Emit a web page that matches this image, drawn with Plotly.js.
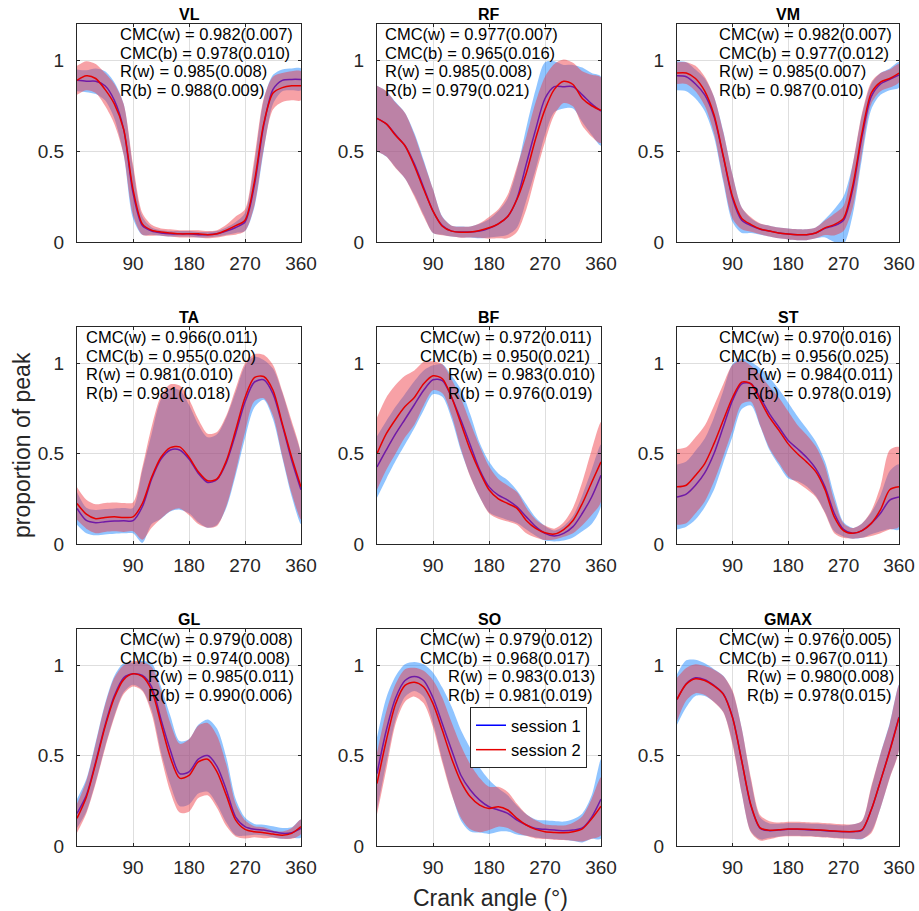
<!DOCTYPE html>
<html><head><meta charset="utf-8">
<script src="https://cdn.plot.ly/plotly-3.0.1.min.js"></script>
<style>html,body{margin:0;padding:0;background:#fff}#chart{width:919px;height:911px}</style>
</head><body><div id="chart"></div>
<script>
// ---------------- DATA ----------------
const angle = [0,15,30,45,60,75,90,105,120,135,150,165,180,195,210,225,240,255,270,285,300,315,330,345,360];
const muscles = ['VL','RF','VM','TA','BF','ST','GL','SO','GMAX'];
const sessionNames = ['session 1','session 2'];

const VL_m1 = [.89,.885,.885,.86,.78,.62,.27,.09,.06,.05,.045,.045,.045,.04,.04,.045,.06,.08,.11,.31,.64,.84,.89,.895,.895];
const VL_s1 = [.06,.06,.07,.08,.10,.14,.14,.05,.02,.015,.015,.015,.015,.015,.015,.015,.02,.03,.05,.12,.14,.08,.06,.06,.06];
const VL_m2 = [.89,.915,.90,.84,.76,.62,.29,.10,.065,.055,.05,.045,.045,.045,.04,.045,.065,.09,.12,.33,.65,.82,.85,.86,.86];
const VL_s2 = [.08,.08,.08,.09,.11,.14,.14,.06,.03,.02,.02,.02,.02,.02,.02,.02,.03,.05,.06,.13,.14,.09,.08,.08,.08];

const RF_m1 = [.68,.65,.59,.53,.43,.30,.17,.09,.06,.055,.055,.06,.075,.10,.14,.24,.43,.62,.79,.855,.855,.855,.81,.76,.72];
const RF_s1 = [.18,.18,.18,.18,.17,.15,.12,.05,.03,.03,.03,.04,.05,.07,.10,.16,.20,.22,.20,.14,.12,.12,.15,.17,.19];
const RF_m2 = [.68,.65,.586,.53,.42,.29,.17,.087,.06,.054,.055,.063,.078,.10,.14,.235,.38,.57,.73,.84,.885,.867,.79,.75,.725];
const RF_s2 = [.18,.18,.18,.18,.17,.15,.12,.05,.03,.03,.03,.04,.06,.08,.12,.18,.20,.20,.18,.14,.12,.12,.15,.17,.18];

const VM_m1 = [.915,.91,.87,.81,.69,.47,.24,.12,.09,.07,.06,.05,.044,.04,.04,.05,.075,.09,.12,.29,.58,.80,.87,.895,.92];
const VM_s1 = [.08,.08,.08,.09,.11,.14,.13,.07,.04,.03,.03,.03,.03,.03,.03,.03,.05,.09,.13,.14,.12,.07,.06,.06,.07];
const VM_m2 = [.93,.93,.90,.83,.70,.475,.25,.13,.096,.072,.06,.05,.044,.04,.04,.05,.078,.096,.13,.31,.60,.82,.88,.90,.93];
const VM_s2 = [.06,.06,.07,.08,.10,.13,.12,.06,.04,.03,.03,.03,.03,.03,.03,.03,.04,.06,.07,.12,.11,.06,.05,.05,.05];

const TA_m1 = [.197,.13,.118,.123,.127,.129,.129,.206,.36,.47,.52,.52,.47,.39,.34,.357,.45,.61,.785,.895,.908,.83,.656,.463,.30];
const TA_s1 = [.09,.07,.07,.07,.07,.07,.07,.20,.25,.33,.34,.33,.30,.27,.25,.25,.25,.23,.20,.14,.11,.14,.18,.20,.19];
const TA_m2 = [.224,.165,.14,.147,.15,.147,.15,.224,.37,.48,.533,.537,.48,.40,.35,.36,.46,.63,.81,.92,.926,.85,.665,.48,.316];
const TA_s2 = [.09,.08,.08,.08,.08,.08,.08,.20,.28,.34,.35,.34,.32,.29,.26,.26,.25,.23,.19,.13,.12,.14,.18,.20,.18];

const BF_m1 = [.426,.52,.61,.69,.77,.85,.908,.904,.81,.684,.546,.41,.316,.27,.243,.206,.15,.096,.059,.044,.059,.096,.17,.26,.38];
const BF_s1 = [.17,.16,.15,.14,.13,.11,.08,.09,.12,.17,.17,.15,.14,.12,.11,.09,.07,.05,.04,.03,.04,.06,.10,.15,.17];
const BF_m2 = [.50,.61,.69,.76,.81,.886,.93,.914,.81,.665,.52,.40,.30,.25,.224,.197,.13,.086,.062,.055,.08,.13,.224,.34,.454];
const BF_s2 = [.20,.20,.19,.17,.15,.12,.08,.08,.10,.14,.15,.14,.13,.11,.10,.09,.07,.05,.04,.03,.04,.07,.12,.18,.22];

const ST_m1 = [.26,.276,.325,.393,.50,.647,.794,.886,.886,.81,.72,.647,.574,.528,.48,.417,.316,.17,.081,.059,.074,.114,.17,.243,.26];
const ST_s1 = [.18,.18,.19,.19,.20,.20,.20,.14,.12,.16,.20,.21,.21,.18,.16,.15,.14,.10,.04,.03,.04,.06,.10,.16,.18];
const ST_m2 = [.316,.325,.38,.445,.555,.684,.81,.895,.886,.794,.70,.63,.555,.50,.454,.40,.30,.15,.074,.059,.074,.114,.19,.30,.316];
const ST_s2 = [.21,.21,.21,.21,.21,.20,.18,.12,.10,.14,.17,.18,.18,.16,.15,.14,.13,.09,.04,.03,.04,.07,.13,.22,.22];

const GL_m1 = [.18,.28,.465,.667,.83,.93,.952,.943,.88,.70,.53,.40,.41,.48,.50,.44,.31,.16,.107,.092,.088,.079,.07,.0735,.097];
const GL_s1 = [.08,.09,.11,.12,.11,.08,.06,.08,.13,.18,.19,.18,.18,.19,.20,.21,.18,.10,.05,.03,.03,.03,.03,.03,.05];
const GL_m2 = [.153,.27,.456,.658,.82,.92,.952,.9375,.86,.676,.49,.375,.39,.465,.48,.41,.28,.143,.092,.079,.0735,.066,.06,.07,.107];
const GL_s2 = [.08,.09,.11,.12,.11,.08,.07,.08,.13,.18,.19,.19,.20,.20,.20,.20,.17,.09,.05,.03,.03,.02,.02,.03,.04];

const SO_m1 = [.40,.64,.82,.915,.9375,.915,.82,.676,.53,.39,.31,.254,.217,.199,.18,.143,.116,.097,.092,.088,.085,.088,.10,.16,.26];
const SO_s1 = [.20,.18,.12,.09,.08,.09,.14,.20,.24,.25,.23,.18,.15,.12,.10,.08,.06,.05,.05,.05,.05,.06,.08,.12,.22];
const SO_m2 = [.345,.585,.787,.888,.906,.879,.787,.64,.483,.355,.272,.226,.208,.217,.199,.153,.116,.092,.079,.075,.0735,.079,.095,.15,.22];
const SO_s2 = [.17,.16,.11,.09,.08,.09,.13,.18,.20,.20,.18,.15,.12,.11,.10,.08,.06,.05,.04,.04,.04,.05,.07,.11,.16];

const GMAX_m1 = [.81,.897,.93,.92,.888,.842,.713,.47,.22,.097,.085,.088,.092,.092,.09,.088,.085,.081,.079,.079,.088,.20,.36,.53,.713];
const GMAX_s1 = [.14,.13,.10,.09,.09,.10,.14,.18,.14,.06,.04,.035,.035,.035,.035,.035,.035,.035,.035,.04,.05,.12,.15,.15,.18];
const GMAX_m2 = [.81,.895,.925,.915,.885,.84,.71,.47,.225,.10,.087,.09,.094,.094,.092,.09,.087,.083,.08,.08,.09,.20,.36,.525,.71];
const GMAX_s2 = [.12,.09,.08,.08,.09,.10,.15,.18,.15,.07,.05,.04,.04,.04,.04,.04,.04,.04,.04,.04,.05,.13,.15,.15,.18];

const cmcW = ['0.982(0.007)','0.977(0.007)','0.982(0.007)','0.966(0.011)','0.972(0.011)','0.970(0.016)','0.979(0.008)','0.979(0.012)','0.976(0.005)'];
const cmcB = ['0.978(0.010)','0.965(0.016)','0.977(0.012)','0.955(0.020)','0.950(0.021)','0.956(0.025)','0.974(0.008)','0.968(0.017)','0.967(0.011)'];
const rW   = ['0.985(0.008)','0.985(0.008)','0.985(0.007)','0.981(0.010)','0.983(0.010)','0.984(0.011)','0.985(0.011)','0.983(0.013)','0.980(0.008)'];
const rB   = ['0.988(0.009)','0.979(0.021)','0.987(0.010)','0.981(0.018)','0.976(0.019)','0.978(0.019)','0.990(0.006)','0.981(0.019)','0.978(0.015)'];
const statLabels = ['CMC(w) = ','CMC(b) = ','R(w) = ','R(b) = '];
const xTicks = [90,180,270,360];
const yTicks = [0,0.5,1];
const yTickText = ['0','0.5','1'];

const series = {
  VL:[VL_m1,VL_s1,VL_m2,VL_s2], RF:[RF_m1,RF_s1,RF_m2,RF_s2], VM:[VM_m1,VM_s1,VM_m2,VM_s2],
  TA:[TA_m1,TA_s1,TA_m2,TA_s2], BF:[BF_m1,BF_s1,BF_m2,BF_s2], ST:[ST_m1,ST_s1,ST_m2,ST_s2],
  GL:[GL_m1,GL_s1,GL_m2,GL_s2], SO:[SO_m1,SO_s1,SO_m2,SO_s2], GMAX:[GMAX_m1,GMAX_s1,GMAX_m2,GMAX_s2]
};

// ---------------- LAYOUT ----------------
const W = 919, H = 911;
const FONT = '"Liberation Sans", Arial, Helvetica, sans-serif';
const colsPx = [[77,301],[377,601],[677,899]];
const rowsPx = [[24,242],[327,544],[629,846]];
// left offset (px from plot left) of CMC lines and R lines
const textOff = [[41,41],[6,6],[40,40],[7,7],[41,69],[40,68],[41,69],[41,69],[40,68]];
const lineOff = [10,28.5,47,65.5];

const bandColors = ['rgba(20,130,255,0.47)','rgba(238,55,65,0.47)'];
const lineColors = ['#0000ff','#e60000'];

const traces = [];
const layout = {
  width: W, height: H,
  margin: {l:0,r:0,t:0,b:0},
  paper_bgcolor:'#fff', plot_bgcolor:'#fff',
  font: {family: FONT, color:'#262626'},
  showlegend: true,
  legend: {x: 470/W, y: 1-707/H, xanchor:'left', yanchor:'top',
           bgcolor:'#fff', bordercolor:'#262626', borderwidth:1,
           font:{size:16.5, family:FONT, color:'#000'}, tracegroupgap:0},
  annotations: [], shapes: []
};

muscles.forEach((m, i) => {
  const r = Math.floor(i/3), c = i%3;
  const sfx = i===0 ? '' : String(i+1);
  const xa = 'x'+sfx, ya = 'y'+sfx;
  const [m1,s1,m2,s2] = series[m];
  [[m1,s1],[m2,s2]].forEach(([mm,ss],k) => {
    const up = mm.map((v,j)=>v+ss[j]);
    const lo = mm.map((v,j)=>v-ss[j]);
    traces.push({x: angle.concat(angle.slice().reverse()), y: up.concat(lo.slice().reverse()),
      type:'scatter', mode:'lines', fill:'toself', fillcolor: bandColors[k],
      line:{width:0, shape:'spline', smoothing:0.8}, hoverinfo:'skip', showlegend:false, xaxis:xa, yaxis:ya});
    traces.push({x: angle, y: mm, type:'scatter', mode:'lines', name: sessionNames[k],
      line:{color: lineColors[k], width:1.5, shape:'spline', smoothing:0.8},
      showlegend: i===0, legendrank: k+1, xaxis:xa, yaxis:ya});
  });
  const ax = {
    domain:[colsPx[c][0]/W, colsPx[c][1]/W], range:[0,360], anchor: ya,
    tickvals:xTicks, ticktext:xTicks.map(String), ticks:'inside', ticklen:3, tickcolor:'#262626',
    showline:true, linecolor:'#262626', linewidth:1, mirror:'ticks',
    showgrid:true, gridcolor:'#dedede', gridwidth:1, zeroline:false,
    tickfont:{size:19, family:FONT, color:'#262626'}, ticklabelstandoff:4, fixedrange:true
  };
  const ay = {
    domain:[1-rowsPx[r][1]/H, 1-rowsPx[r][0]/H], range:[0,1.2], anchor: xa,
    tickvals:yTicks, ticktext:yTickText, ticks:'inside', ticklen:3, tickcolor:'#262626',
    showline:true, linecolor:'#262626', linewidth:1, mirror:'ticks',
    showgrid:true, gridcolor:'#dedede', gridwidth:1, zeroline:false,
    tickfont:{size:19, family:FONT, color:'#262626'}, ticklabelstandoff:8, fixedrange:true
  };
  layout['xaxis'+sfx] = ax;
  layout['yaxis'+sfx] = ay;
  // title
  layout.annotations.push({xref:'paper', yref:'paper', x:(colsPx[c][0]+colsPx[c][1])/2/W,
    y:1-(rowsPx[r][0]-9.5)/H, xanchor:'center', yanchor:'middle', showarrow:false,
    text:'<b>'+m+'</b>', font:{size:16, family:FONT, color:'#000'}});
  const vals = [cmcW[i], cmcB[i], rW[i], rB[i]];
  vals.forEach((v,j) => {
    const off = j<2 ? textOff[i][0] : textOff[i][1];
    layout.annotations.push({xref:'paper', yref:'paper', x:(colsPx[c][0]+off)/W,
      y:1-(rowsPx[r][0]+lineOff[j])/H, xanchor:'left', yanchor:'middle', showarrow:false,
      text: statLabels[j]+v, font:{size:16.5, family:FONT, color:'#000'}});
  });
});

layout.annotations.push({xref:'paper', yref:'paper', x:22/W, y:1-445/H, textangle:-90,
  xanchor:'center', yanchor:'middle', showarrow:false, text:'proportion of peak',
  font:{size:23, family:FONT, color:'#262626'}});
layout.annotations.push({xref:'paper', yref:'paper', x:490/W, y:1-898/H,
  xanchor:'center', yanchor:'middle', showarrow:false, text:'Crank angle (°)',
  font:{size:23, family:FONT, color:'#262626'}});

Plotly.newPlot('chart', traces, layout, {displayModeBar:false, staticPlot:true});
</script></body></html>
